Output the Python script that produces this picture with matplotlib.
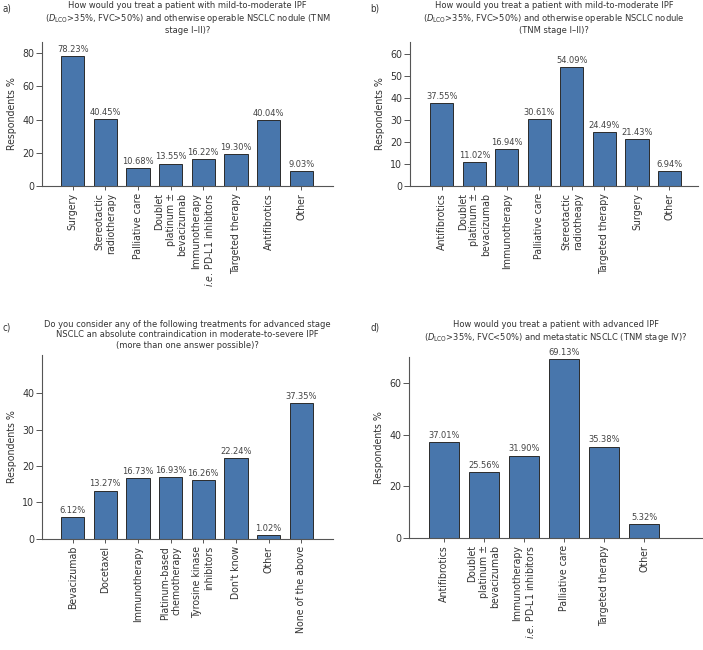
import matplotlib
matplotlib.use("Agg")
import matplotlib.pyplot as plt
import numpy as np

plt.rcParams["font.family"] = ["DejaVu Sans"]
plt.rcParams["font.stretch"] = "condensed"
plt.rcParams["mathtext.fontset"] = "dejavusans"

# panel a
a_cats = ["Surgery", "Stereotactic\nradiotherapy", "Palliative care",
          "Doublet\nplatinum \u00b1\nbevacizumab",
          "Immunotherapy\n$\\it{i}$.$\\it{e}$. PD-L1 inhibitors",
          "Targeted therapy", "Antifibrotics", "Other"]
a_vals = [78.23, 40.45, 10.68, 13.55, 16.22, 19.30, 40.04, 9.03]
a_title = ("How would you treat a patient with mild-to-moderate IPF\n"
           "($\\it{D}_{\\rm LCO}$>35%, FVC>50%) and otherwise operable NSCLC nodule (TNM\n"
           "stage I\u2013II)?")

# panel b
b_cats = ["Antifibrotics", "Doublet\nplatinum \u00b1\nbevacizumab", "Immunotherapy",
          "Palliative care", "Stereotactic\nradiotheapy", "Targeted therapy",
          "Surgery", "Other"]
b_vals = [37.55, 11.02, 16.94, 30.61, 54.09, 24.49, 21.43, 6.94]
b_title = ("How would you treat a patient with mild-to-moderate IPF\n"
           "($\\it{D}_{\\rm LCO}$>35%, FVC>50%) and otherwise operable NSCLC nodule\n"
           "(TNM stage I\u2013II)?")

# panel c
c_cats = ["Bevacizumab", "Docetaxel", "Immunotherapy",
          "Platinum-based\nchemotherapy", "Tyrosine kinase\ninhibitors",
          "Don't know", "Other", "None of the above"]
c_vals = [6.12, 13.27, 16.73, 16.93, 16.26, 22.24, 1.02, 37.35]
c_title = ("Do you consider any of the following treatments for advanced stage\n"
           "NSCLC an absolute contraindication in moderate-to-severe IPF\n"
           "(more than one answer possible)?")

# panel d
d_cats = ["Antifibrotics", "Doublet\nplatinum \u00b1\nbevacizumab",
          "Immunotherapy\n$\\it{i}$.$\\it{e}$. PD-L1 inhibitors",
          "Palliative care", "Targeted therapy", "Other"]
d_vals = [37.01, 25.56, 31.90, 69.13, 35.38, 5.32]
d_title = ("How would you treat a patient with advanced IPF\n"
           "($\\it{D}_{\\rm LCO}$>35%, FVC<50%) and metastatic NSCLC (TNM stage IV)?")

BAR = "#4876ac"
EDGE = "#2b2b2b"
TXT = "#333333"
AX = "#555555"

fig = plt.figure(figsize=(7.03, 6.5), dpi=100)

panels = [
    ("a)", a_cats, a_vals, a_title, [0.0597, 0.7138, 0.4143, 0.2216], (-0.94, 7.98), 86.8, np.arange(0, 81, 20), 0.715),
    ("b)", b_cats, b_vals, b_title, [0.5832, 0.7138, 0.4097, 0.2216], (-0.98, 7.88), 65.5, np.arange(0, 61, 10), 0.715),
    ("c)", c_cats, c_vals, c_title, [0.0597, 0.1708, 0.4143, 0.2835], (-0.94, 7.98), 50.5, np.arange(0, 41, 10), 0.715),
    ("d)", d_cats, d_vals, d_title, [0.5818, 0.1723, 0.4168, 0.2785], (-0.875, 6.45), 70.0, np.arange(0, 61, 20), 0.74),
]

for letter, cats, vals, title, rect, xlim, ytop, yticks, width in panels:
    ax = fig.add_axes(rect)
    x = np.arange(len(cats))
    bars = ax.bar(x, vals, width=width, color=BAR, edgecolor=EDGE, linewidth=0.7)
    for b, v in zip(bars, vals):
        ax.annotate(f"{v:.2f}%", (b.get_x() + b.get_width() / 2, v),
                    xytext=(0, 1.5), textcoords="offset points",
                    ha="center", va="bottom", fontsize=6.7, color="#444444")
    ax.set_xlim(*xlim)
    ax.set_ylim(0, ytop)
    ax.set_yticks(yticks)
    ax.set_xticks(x)
    ax.set_xticklabels(cats, rotation=90, fontsize=7.6, color=TXT,
                       multialignment="right", linespacing=1.2)
    ax.tick_params(axis="y", labelsize=7.6, labelcolor=TXT, color=AX, length=4, width=0.7, pad=1.5)
    ax.tick_params(axis="x", color=AX, length=3, width=0.7, pad=2)
    for s in ("top", "right"):
        ax.spines[s].set_visible(False)
    for s in ("left", "bottom"):
        ax.spines[s].set_color(AX)
        ax.spines[s].set_linewidth(0.8)
    ax.set_ylabel("Respondents %", fontsize=7.6, color=TXT, labelpad=4)

    # title centred over the axes, panel letter at the left edge
    cx = rect[0] + rect[2] / 2
    ty = 0.998 if letter in ("a)", "b)") else 0.5075
    fig.text(cx, ty, title, ha="center", va="top", fontsize=6.7, color=TXT, linespacing=1.17)
    lx = 0.003 if letter in ("a)", "c)") else 0.527
    fig.text(lx, ty - 0.004, letter, ha="left", va="top", fontsize=7, color=TXT)

fig.savefig("out.png", dpi=100)
